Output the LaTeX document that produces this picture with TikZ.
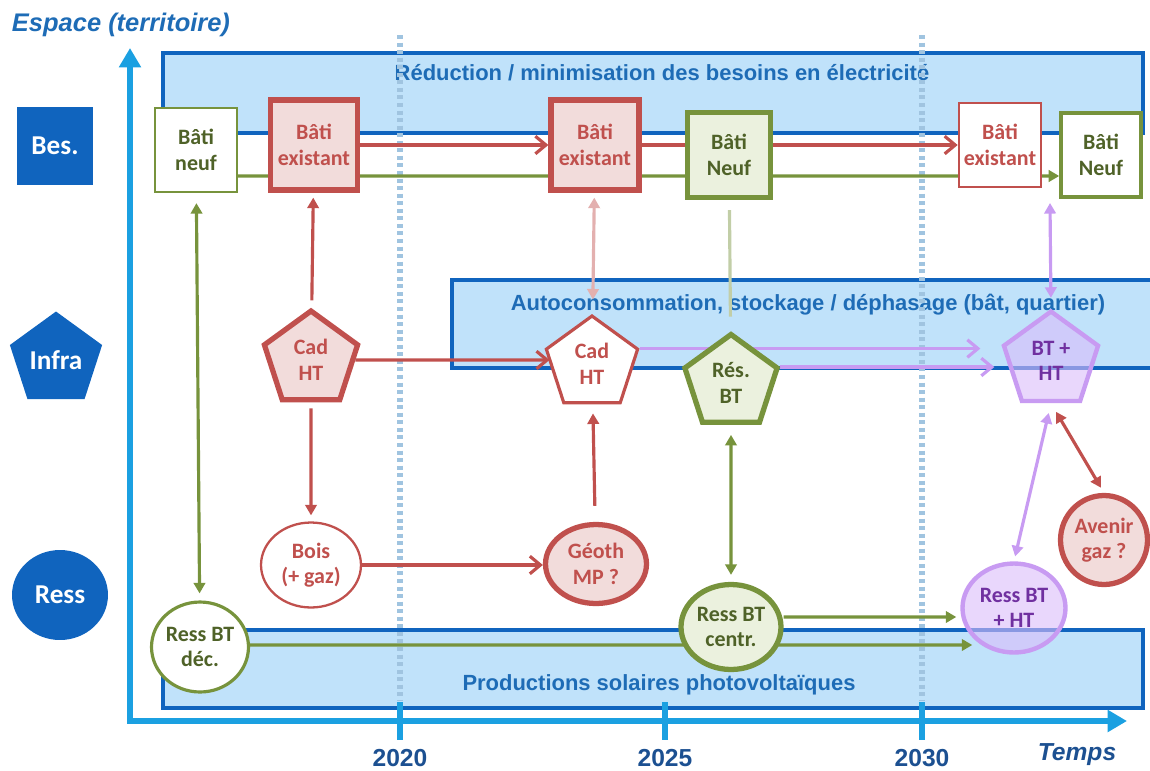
\documentclass[tikz,border=0pt]{standalone}
\usepackage{fontspec}
\setmainfont{Carlito}
\newfontfamily\arialfont{Liberation Sans}
\usetikzlibrary{shapes.geometric,arrows.meta}
\definecolor{axisblue}{RGB}{27,160,225}
\definecolor{bandblue}{RGB}{16,100,190}
\definecolor{bandfill}{RGB}{192,226,250}
\definecolor{bandtext}{RGB}{30,108,182}
\definecolor{yeartext}{RGB}{28,80,145}
\definecolor{dotblue}{RGB}{160,196,224}
\definecolor{redc}{RGB}{192,80,77}
\definecolor{pinkc}{RGB}{242,220,219}
\definecolor{greenc}{RGB}{119,147,60}
\definecolor{greentext}{RGB}{79,98,40}
\definecolor{lgreen}{RGB}{235,241,222}
\definecolor{violc}{RGB}{200,155,242}
\definecolor{violfill}{RGB}{218,188,250}
\definecolor{violtext}{RGB}{112,48,160}
\pgfdeclarelayer{back}
\pgfdeclarelayer{mid}
\pgfsetlayers{back,mid,main}
\tikzset{
  lab/.style={align=center, inner sep=0pt, font=\fontsize{12.5}{14.5}\selectfont\bfseries},
  bati/.style={lab, rectangle, minimum width=1.64cm, minimum height=1.68cm},
  cad/.style={lab, regular polygon, regular polygon sides=5, minimum size=1.94cm},
  ress/.style={lab, ellipse, minimum width=2cm, minimum height=1.72cm},
  rouge/.style={draw=redc, text=redc, fill=white, line width=1.3pt},
  rougefort/.style={rouge, fill=pinkc, line width=3pt},
  vert/.style={draw=greenc, text=greentext, fill=white, line width=1.3pt},
  vertfort/.style={vert, fill=lgreen, line width=3pt},
  violet/.style={draw=violc, text=violtext, fill=violfill, fill opacity=0.6, text opacity=1, line width=2.5pt},
  categ/.style={fill=bandblue, text=white, inner sep=0pt, font=\fontsize{15.5}{18}\selectfont\bfseries},
  bande/.style={draw=bandblue, fill=bandfill, line width=2.8pt},
  titre/.style={text=bandtext, font=\arialfont\fontsize{12.5}{15}\selectfont\bfseries},
  annee/.style={text=yeartext, font=\arialfont\fontsize{14}{16}\selectfont\bfseries},
  lien/.style={line width=1.8pt, -{Triangle[length=6pt,width=6.5pt]}},
  lien2/.style={line width=1.8pt, {Triangle[length=6pt,width=6.5pt]}-{Triangle[length=6pt,width=6.5pt]}},
  flux/.style={line width=1.8pt, -{Straight Barb[length=6pt,width=10pt]}},
}
\begin{document}
\begin{tikzpicture}[x=0.02cm,y=-0.02cm]
\useasboundingbox (0,0) rectangle (1150,771);
\begin{pgfonlayer}{back}
\draw[bande] (163,53) rectangle (1143,133);
\draw[bande] (452,280) rectangle (1165,368);
\draw[bande] (163,630) rectangle (1143,708);
\node[titre] (tbesoins) at (662,73) {Réduction / minimisation des besoins en électricité};
\node[titre] (tstock) at (808,305) {Autoconsommation, stockage / déphasage (bât, quartier)};
\node[titre] (tsolaire) at (659,685) {Productions solaires photovoltaïques};
\foreach \x in {400,922}
{
\draw[dotblue, line width=3pt, dash pattern=on 2.3pt off 2pt] (\x,35) -- (\x,700);
}
\coordinate (O) at (130,721);
\draw[axisblue, line width=3pt, line join=miter, {Triangle[length=11pt,width=12pt]}-{Triangle[length=11pt,width=12pt]}] (130,48) -- (O) -- (1127,721);
\foreach \x/\a in {400/2020,665/2025,922/2030}
{
\draw[axisblue, line width=3pt] (\x,702) -- (\x,740);
\node[annee] (y\a) at (\x,758) {\a};
}
\node[annee, font=\arialfont\fontsize{14}{16}\selectfont\bfseries\itshape] (temps) at (1077,755) {Temps};
\node[text=bandtext, font=\arialfont\fontsize{14.5}{17}\selectfont\bfseries\itshape] (espace) at (121,25) {Espace (territoire)};
\end{pgfonlayer}
\node[categ, rectangle, minimum width=1.54cm, minimum height=1.56cm] (bes) at (55,146) {Bes.};
\node[categ, regular polygon, regular polygon sides=5, minimum size=1.94cm] (infra) at (56,360) {Infra};
\node[categ, ellipse, minimum width=1.92cm, minimum height=1.8cm] (ress) at (60,595) {Ress};
\node[bati, vert] (neuf1) at (196,150) {Bâti\\neuf};
\node[bati, rougefort, minimum width=1.74cm, minimum height=1.8cm] (exist1) at (314,145) {Bâti\\existant};
\node[bati, rougefort, minimum width=1.76cm, minimum height=1.8cm] (exist2) at (595,145) {Bâti\\existant};
\node[bati, vertfort, minimum width=1.66cm, minimum height=1.7cm] (neuf2) at (729,155) {Bâti\\Neuf};
\node[bati, rouge, line width=1.5pt] (exist3) at (1000,145) {Bâti\\existant};
\node[bati, vert, line width=2pt, minimum width=1.6cm] (neuf3) at (1101,155) {Bâti\\Neuf};
\node[cad, rougefort, minimum size=1.96cm] (cad1) at (311,360) {Cad\\HT};
\node[cad, rouge, line width=1.8pt, minimum size=1.92cm] (cad2) at (592,364) {Cad\\HT};
\node[cad, vertfort] (resbt) at (731,383) {Rés.\\BT};
\node[cad, violet, minimum size=1.98cm] (btht) at (1051,361) {BT +\\HT};
\node[ress, rouge, minimum width=2cm, minimum height=1.7cm] (bois) at (311,565) {Bois\\(+ gaz)};
\node[ress, rougefort, minimum width=2.02cm, minimum height=1.58cm] (geoth) at (596,564) {Géoth\\MP ?};
\node[ress, vert, line width=1.8pt, minimum width=1.94cm, minimum height=1.8cm] (decen) at (200,647) {Ress BT\\déc.};
\node[ress, vertfort, minimum width=2cm, minimum height=1.7cm] (centr) at (731,627) {Ress BT\\centr.};
\node[ress, violet, minimum width=2.06cm, minimum height=1.78cm] (rbtht) at (1014,608) {Ress BT\\+ HT};
\node[ress, rougefort, minimum width=1.74cm, minimum height=1.78cm] (gaz) at (1104,540) {Avenir\\gaz ?};
\coordinate (haut) at (1050,203);
\begin{pgfonlayer}{mid}
\draw[lien, greenc] ([yshift=-0.52cm]neuf1.east) -- ([yshift=-0.42cm]neuf3.west);
\draw[flux, redc] (exist1) -- (exist2);
\draw[flux, redc] (exist2) -- (exist3);
\draw[lien, redc, shorten <=0.16cm, shorten >=0.1cm] (cad1) -- (exist1);
\draw[lien, redc, shorten <=0.12cm, shorten >=0.12cm] (cad1) -- (bois);
\draw[flux, redc] (cad1) -- (cad1 -| cad2.west);
\draw[flux, redc] (bois) -- (bois -| geoth.west);
\draw[lien, redc, shorten <=0.32cm, shorten >=0.18cm] (geoth) -- (cad2);
\draw[lien2, redc!45, shorten <=0.1cm, shorten >=0.3cm] (exist2) -- (cad2);
\draw[greenc!45, line width=1.8pt, shorten <=0.2cm, shorten >=0.3cm] (neuf2) -- (resbt);
\draw[lien2, greenc, shorten <=0.2cm, shorten >=0.14cm] (resbt) -- (centr);
\draw[lien2, greenc, shorten <=0.2cm, shorten >=0.14cm] (neuf1) -- (decen);
\draw[flux, violc, shorten >=0.42cm] (cad2.corner 5) -- (cad2.corner 5 -| btht.corner 2);
\draw[flux, violc, shorten >=0.14cm] (resbt.corner 5) -- (resbt.corner 5 -| btht.corner 2);
\draw[lien2, violc, shorten >=0.22cm] (haut) -- (btht.corner 1);
\draw[lien2, violc, shorten <=0.2cm, shorten >=0.1cm] (btht.south) -- (rbtht.north);
\draw[lien2, redc, shorten <=0.2cm, shorten >=0.12cm] (btht.south) -- (gaz.north);
\draw[lien, greenc] ([yshift=0.2cm]centr.east) -- ([xshift=-0.08cm,yshift=-0.18cm]rbtht.west);
\draw[lien, greenc] ([yshift=0.04cm]decen.east) -- ([xshift=0.24cm,yshift=-0.74cm]rbtht.west);
\end{pgfonlayer}
\end{tikzpicture}
\end{document}
